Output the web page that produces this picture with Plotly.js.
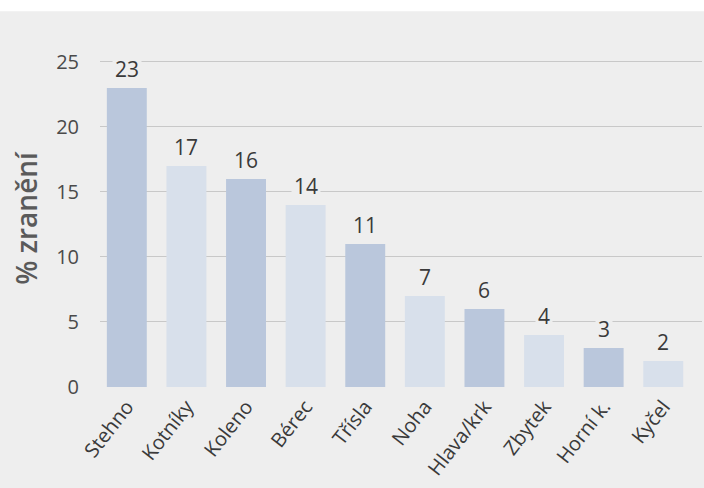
<!DOCTYPE html>
<html>
<head>
<meta charset="utf-8">
<script src="https://cdn.plot.ly/plotly-3.0.1.min.js"></script>
<style>html,body{margin:0;padding:0;background:#eeeeee;}#chart{width:704px;height:488px;}</style>
</head>
<body>
<div id="chart"></div>
<script>
const categories = ["Stehno", "Kotníky", "Koleno", "Bérec", "Třísla", "Noha", "Hlava/krk", "Zbytek", "Horní k.", "Kyčel"];
const values = [23, 17, 16, 14, 11, 7, 6, 4, 3, 2];
const yTicks = [0, 5, 10, 15, 20, 25];
const darkBar = "#bac7dc";
const lightBar = "#d8e0eb";
const barColors = categories.map((c, i) => i % 2 === 0 ? darkBar : lightBar);
const bg = "#eeeeee";

const trace = {
  type: "bar",
  x: categories,
  y: values,
  marker: {color: barColors, line: {width: 0}},
  hoverinfo: "x+y"
};

const annotations = categories.map((c, i) => ({
  x: c, y: values[i], xref: "x", yref: "y",
  text: String(values[i]), showarrow: false,
  yanchor: "bottom", yshift: 2,
  bgcolor: bg, borderpad: 2,
  font: {family: "Open Sans, sans-serif", size: 21, color: "#3a3a3a"}
}));

const layout = {
  width: 704, height: 488,
  paper_bgcolor: bg, plot_bgcolor: bg,
  margin: {l: 100, r: 2, t: 50, b: 101},
  showlegend: false,
  bargap: 0.33,
  xaxis: {
    type: "category",
    range: [-0.45, 9.65],
    tickangle: -52,
    tickfont: {family: "Open Sans, sans-serif", size: 20, color: "#3a3a3a"},
    ticklabelstandoff: 3,
    showgrid: false, zeroline: false, showline: false, ticks: "",
    fixedrange: true
  },
  yaxis: {
    range: [0, 25.92],
    tickvals: yTicks,
    ticktext: yTicks.map(String),
    tickfont: {family: "Open Sans, sans-serif", size: 20, color: "#4a4a4a"},
    ticklabelstandoff: 20,
    showgrid: true, gridcolor: "#c8c8c8", gridwidth: 1,
    zeroline: false, showline: false, ticks: "",
    title: {text: "% zranění", font: {family: "Open Sans, sans-serif", size: 28, color: "#5a5a5a", weight: 600}, standoff: 10},
    fixedrange: true
  },
  annotations: annotations,
  shapes: [{type: "rect", xref: "paper", yref: "paper", x0: -0.2, x1: 1.01, y0: 1.115, y1: 1.2, fillcolor: "#ffffff", line: {width: 0}, layer: "below"}]
};

Plotly.newPlot("chart", [trace], layout, {displayModeBar: false, staticPlot: true});
</script>
</body>
</html>
